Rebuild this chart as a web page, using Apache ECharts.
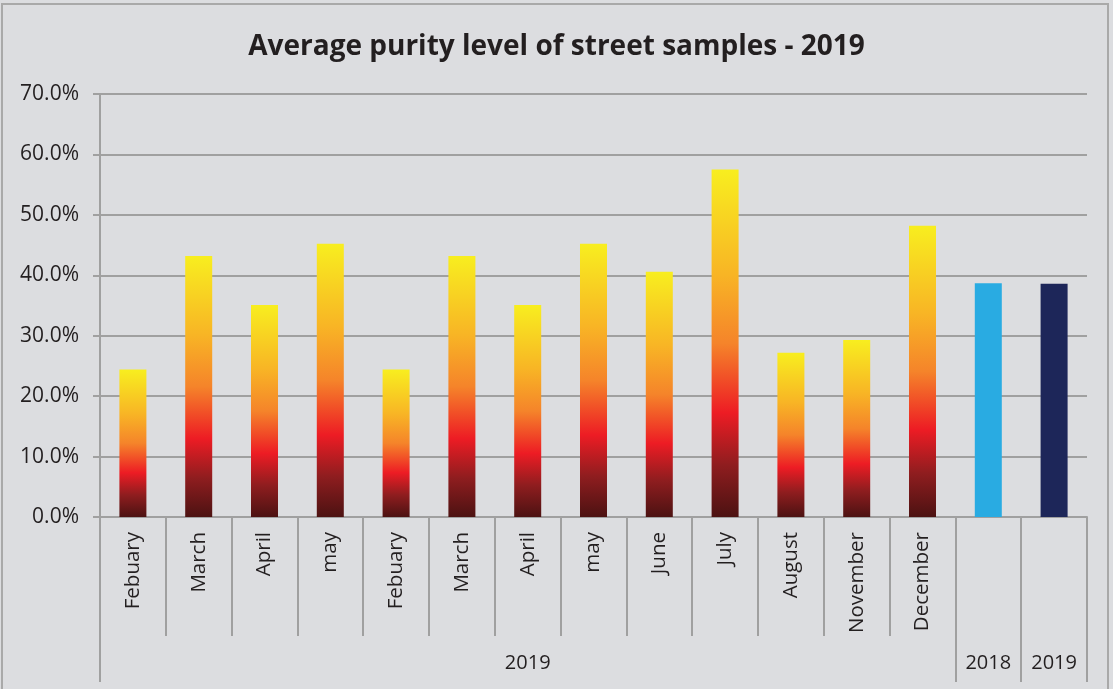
<!DOCTYPE html>
<html>
<head>
<meta charset="utf-8">
<script src="https://cdn.jsdelivr.net/npm/echarts@6/dist/echarts.min.js"></script>
<style>
  html, body { margin: 0; padding: 0; background: #ffffff; }
  #chart { position: absolute; left: 0; top: 0; width: 1113px; height: 689px; background: #dcdde0; }
  #frame { position: absolute; left: 1px; top: 3px; width: 1108px; height: 690px; border: 2px solid #a9a9a9; pointer-events: none; box-sizing: border-box; }
</style>
</head>
<body>
<div id="chart"></div>
<div id="frame"></div>
<script>
const months = ['Febuary', 'March', 'April', 'may', 'Febuary', 'March', 'April', 'may', 'June', 'July', 'August', 'November', 'December', '', '']
const purity = [24.4, 43.2, 35.1, 45.2, 24.4, 43.2, 35.1, 45.2, 40.6, 57.5, 27.2, 29.3, 48.2, 38.7, 38.6]
const yearGroups = [
  { name: '2019', span: 13 },
  { name: '2018', span: 1 },
  { name: '2019', span: 1 }
]
const yTicks = [0, 10, 20, 30, 40, 50, 60, 70]

// colour of the two yearly average bars
const averageColors = { 13: '#29abe2', 14: '#1d2659' }

const fireGradient = new echarts.graphic.LinearGradient(0, 0, 0, 1, [
  { offset: 0, color: '#f8ee1f' },
  { offset: 0.3, color: '#f8b525' },
  { offset: 0.5, color: '#f5842a' },
  { offset: 0.7, color: '#ed1c24' },
  { offset: 0.85, color: '#8f1d1f' },
  { offset: 1, color: '#4c1212' }
])

// second level of the category axis: one label in the middle of each group
const groupLabels = []
const groupStarts = []
yearGroups.forEach(g => {
  groupStarts.push(groupLabels.length)
  for (let i = 0; i < g.span; i++) {
    groupLabels.push(i === Math.floor((g.span - 1) / 2) ? g.name : '')
  }
})

const chart = echarts.init(document.getElementById('chart'))
chart.setOption({
  animation: false,
  backgroundColor: '#dcdde0',
  title: {
    text: 'Average purity level of street samples - 2019',
    left: 'center',
    top: 28,
    textStyle: { fontFamily: 'Open Sans, sans-serif', fontWeight: 'bold', fontSize: 28, color: '#231f20' }
  },
  grid: { left: 100, right: 26, top: 94, bottom: 172, containLabel: false },
  xAxis: [
    {
      type: 'category',
      data: months,
      axisLine: { lineStyle: { color: '#a0a0a0', width: 2 } },
      axisTick: { show: true, interval: 0, length: 119, lineStyle: { color: '#a0a0a0', width: 2 } },
      axisLabel: {
        interval: 0,
        rotate: 90,
        margin: 15,
        fontFamily: 'Open Sans, sans-serif',
        fontSize: 20.5,
        color: '#231f20'
      }
    },
    {
      type: 'category',
      position: 'bottom',
      data: groupLabels,
      axisLine: { show: false },
      axisTick: {
        show: true,
        length: 165,
        interval: (idx) => groupStarts.includes(idx),
        lineStyle: { color: '#a0a0a0', width: 2 }
      },
      axisLabel: {
        interval: 0,
        margin: 136,
        fontFamily: 'Open Sans, sans-serif',
        fontSize: 20,
        color: '#231f20'
      }
    }
  ],
  yAxis: {
    type: 'value',
    min: 0,
    max: 70,
    interval: 10,
    axisLine: { show: true, lineStyle: { color: '#a0a0a0', width: 2 } },
    axisTick: { show: true, length: 7, lineStyle: { color: '#a0a0a0', width: 2 } },
    splitLine: { lineStyle: { color: '#a0a0a0', width: 2 } },
    axisLabel: {
      margin: 21,
      fontFamily: 'Open Sans, sans-serif',
      fontSize: 21,
      color: '#231f20',
      formatter: (v) => yTicks.includes(v) ? v.toFixed(1) + '%' : ''
    }
  },
  series: [
    {
      type: 'bar',
      barWidth: 27,
      data: purity.map((v, i) => ({
        value: v,
        itemStyle: { color: averageColors[i] || fireGradient }
      }))
    }
  ]
})
</script>
</body>
</html>
